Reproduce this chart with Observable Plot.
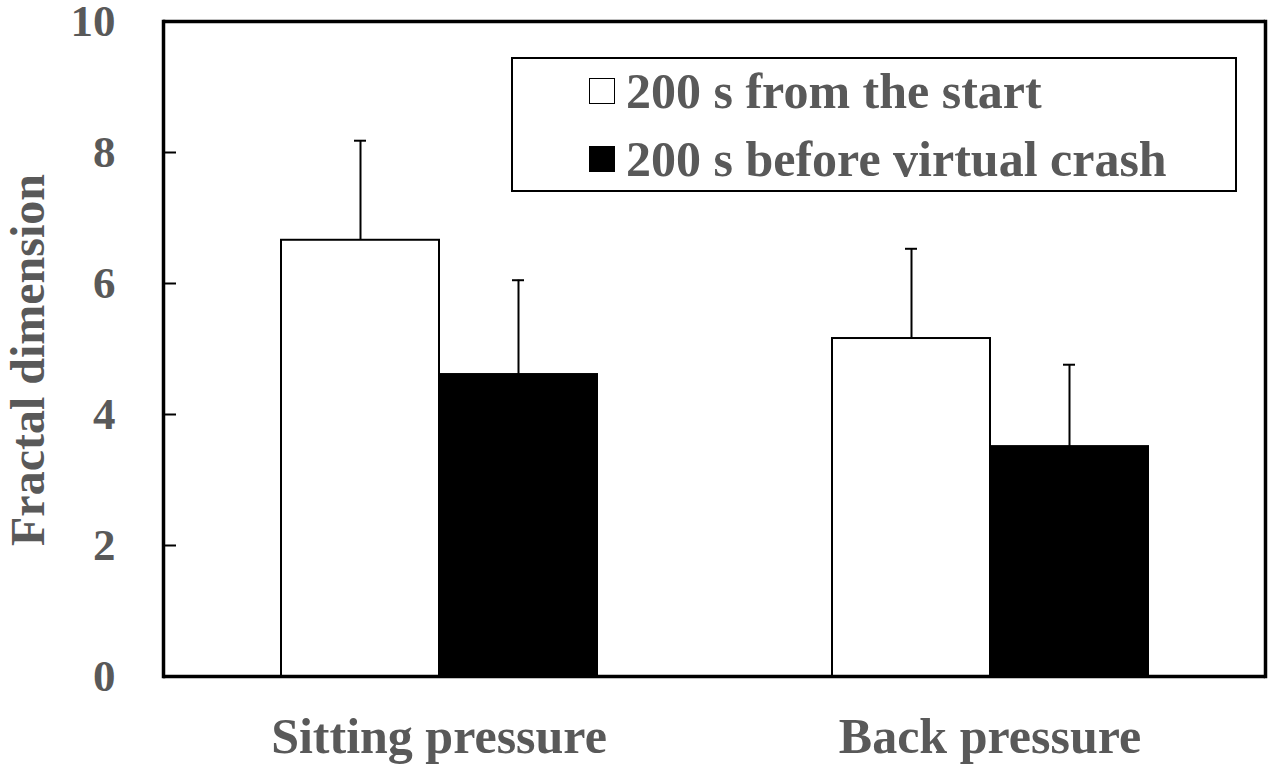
<!DOCTYPE html>
<html>
<head>
<meta charset="utf-8">
<script src="https://cdn.jsdelivr.net/npm/d3@7"></script>
<script src="https://cdn.jsdelivr.net/npm/@observablehq/plot@0.6"></script>
<style>
  html, body { margin: 0; padding: 0; background: #fff; }
  #wrap { position: relative; width: 1273px; height: 767px; overflow: hidden; }
  #legend { position: absolute; left: 511px; top: 57px; width: 726px; height: 135px; box-sizing: border-box;
            border: 2px solid #000; background: #fff;
            font-family: "Liberation Serif", "Times New Roman", serif; font-weight: bold; font-size: 50px; color: #595959; }
  #legend .sw { position: absolute; left: 76px; width: 26px; height: 26px; box-sizing: border-box; border: 1.5px solid #000; }
  #legend .lab { position: absolute; left: 113px; line-height: 50px; white-space: nowrap; }
</style>
</head>
<body>
<div id="wrap"></div>
<script>
// ---- data ----
const categories = ["Sitting pressure", "Back pressure"];
const seriesNames = ["200 s from the start", "200 s before virtual crash"];
const seriesFills = ["#ffffff", "#000000"];
const startMeans = [6.66, 5.16];
const startSD = [1.52, 1.37];
const crashMeans = [4.61, 3.51];
const crashSD = [1.44, 1.25];
const yTicks = [0, 2, 4, 6, 8, 10];
const innerTicks = [2, 4, 6, 8];

const rows = [];
categories.forEach((c, i) => {
  rows.push({category: c, series: seriesNames[0], mean: startMeans[i], sd: startSD[i]});
  rows.push({category: c, series: seriesNames[1], mean: crashMeans[i], sd: crashSD[i]});
});

const gray = "#595959";
const plot = Plot.plot({
  width: 1273,
  height: 767,
  marginLeft: 163,
  marginRight: 8,
  marginTop: 21,
  marginBottom: 91,
  style: {fontFamily: "'Liberation Serif', 'Times New Roman', serif", fontWeight: "bold", background: "#fff", color: "#000", overflow: "visible"},
  fx: {domain: categories, padding: 0, label: null},
  x: {domain: seriesNames, paddingInner: 0, paddingOuter: 0.74, axis: null},
  y: {domain: [0, 10], label: null},
  color: {domain: seriesNames, range: seriesFills},
  marks: [
    Plot.barY(rows, {fx: "category", x: "series", y: "mean", fill: "series", stroke: "#000", strokeWidth: 2}),
    Plot.ruleX(rows, {fx: "category", x: "series", y1: "mean", y2: d => d.mean + d.sd, stroke: "#000", strokeWidth: 2}),
    Plot.tickY(rows, {fx: "category", x: "series", y: d => d.mean + d.sd, inset: 73, stroke: "#000", strokeWidth: 2}),
    Plot.ruleY([0, 10], {stroke: "#000", strokeWidth: 3.5}),
    Plot.frame({anchor: "left", facetAnchor: "left", stroke: "#000", strokeWidth: 3.5}),
    Plot.frame({anchor: "right", facetAnchor: "right", stroke: "#000", strokeWidth: 3.5}),
    Plot.axisY({ticks: yTicks, tickSize: 0, tickPadding: 48, fontSize: 45, fill: gray, label: null}),
    Plot.axisY({ticks: innerTicks, tickSize: -13, text: null, stroke: "#000", strokeWidth: 2, label: null}),
    Plot.axisFx({anchor: "bottom", tickSize: 0, tickPadding: 41, fontSize: 50, fill: gray, label: null}),
    Plot.text(["Fractal dimension"], {frameAnchor: "left", facetAnchor: "left", rotate: -90, dx: -135, dy: 11,
      fontSize: 48, fill: gray, fontWeight: "bold", textAnchor: "middle", lineAnchor: "middle"})
  ]
});
const wrap = document.getElementById("wrap");
wrap.appendChild(plot);

// legend (inside plot area, as in the reference)
const legend = document.createElement("div");
legend.id = "legend";
seriesNames.forEach((name, i) => {
  const sw = document.createElement("div");
  sw.className = "sw";
  sw.style.top = (19 + i * 68) + "px";
  sw.style.background = seriesFills[i];
  legend.appendChild(sw);
  const lab = document.createElement("div");
  lab.className = "lab";
  lab.style.top = (7 + i * 68) + "px";
  lab.textContent = name;
  legend.appendChild(lab);
});
wrap.appendChild(legend);
</script>
</body>
</html>
